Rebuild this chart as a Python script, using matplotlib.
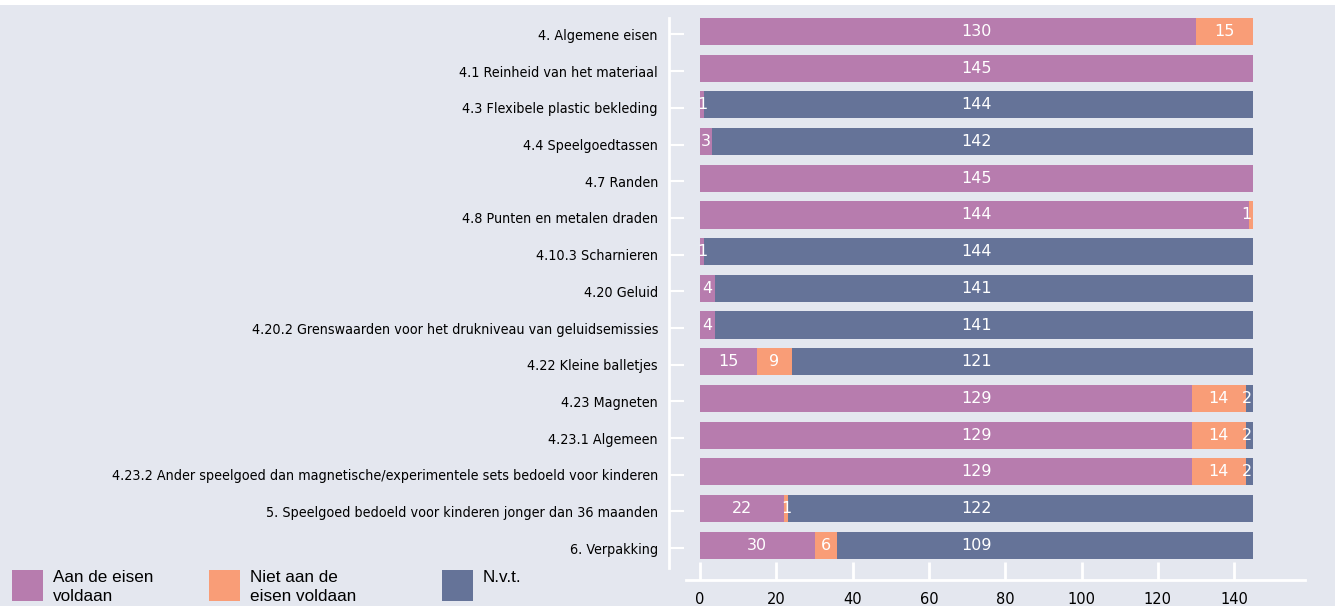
import matplotlib.pyplot as plt
from matplotlib import font_manager as fm
from matplotlib.patches import Rectangle

categories = [
    '4. Algemene eisen',
    '4.1 Reinheid van het materiaal',
    '4.3 Flexibele plastic bekleding',
    '4.4 Speelgoedtassen',
    '4.7 Randen',
    '4.8 Punten en metalen draden',
    '4.10.3 Scharnieren',
    '4.20 Geluid',
    '4.20.2 Grenswaarden voor het drukniveau van geluidsemissies',
    '4.22 Kleine balletjes',
    '4.23 Magneten',
    '4.23.1 Algemeen',
    '4.23.2 Ander speelgoed dan magnetische/experimentele sets bedoeld voor kinderen',
    '5. Speelgoed bedoeld voor kinderen jonger dan 36 maanden',
    '6. Verpakking',
]
aan_eisen = [130, 145, 1, 3, 145, 144, 1, 4, 4, 15, 129, 129, 129, 22, 30]
niet_aan_eisen = [15, 0, 0, 0, 0, 1, 0, 0, 0, 9, 14, 14, 14, 1, 6]
nvt = [0, 0, 144, 142, 0, 0, 144, 141, 141, 121, 2, 2, 2, 122, 109]

series = [
    ('Aan de eisen\nvoldaan', aan_eisen, '#b77cae'),
    ('Niet aan de\neisen voldaan', niet_aan_eisen, '#f99d77'),
    ('N.v.t.', nvt, '#657398'),
]
xticks = [0, 20, 40, 60, 80, 100, 120, 140]

bg = '#e4e7ef'
W, H = 1335, 606
PT = 0.72  # points per pixel at dpi 100

# condensed face for the category labels, if there is one
cond = [f.fname for f in fm.fontManager.ttflist
        if f.name == 'DejaVu Sans' and f.stretch == 'condensed'
        and f.weight in (400, 'normal') and f.style == 'normal']
if cond:
    label_font = fm.FontProperties(fname=cond[0], size=10.25)
else:
    label_font = fm.FontProperties(family='DejaVu Sans', size=9.4)

fig = plt.figure(figsize=(W / 100, H / 100), dpi=100, facecolor=bg)
fig.patches.append(Rectangle((0, 1 - 5 / H), 1, 5 / H, transform=fig.transFigure,
                             facecolor='white', edgecolor='none'))

ax = fig.add_axes([686 / W, 1 - 568 / H, (1305 - 686) / W, (568 - 18) / H])
ax.set_facecolor(bg)

# spines first: moving them resets the ticks
for s in ['top', 'right']:
    ax.spines[s].set_visible(False)
ax.spines['left'].set_position(('outward', 17 * PT))
ax.spines['bottom'].set_position(('outward', 12 * PT))
for s in ['left', 'bottom']:
    ax.spines[s].set_color('white')
    ax.spines[s].set_linewidth(2)

y = list(range(len(categories)))
totals = [a + b + c for a, b, c in zip(aan_eisen, niet_aan_eisen, nvt)]
left = [0] * len(categories)
for name, vals, col in series:
    ax.barh(y, vals, left=left, height=0.74, color=col, edgecolor='none')
    for i, v in enumerate(vals):
        if v <= 0:
            continue
        x, ha = left[i] + v / 2, 'center'
        if v >= 100:
            x = totals[i] / 2          # big segments: label in the middle of the bar
        elif x > totals[i] - 2:
            x, ha = totals[i] - 0.3, 'right'   # keep tiny end labels inside the bar
        ax.text(x, i, str(v), ha=ha, va='center', color='white',
                fontsize=11.5, family='DejaVu Sans')
    left = [l + v for l, v in zip(left, vals)]

ax.set_xlim(-3.7, 158.6)
ax.set_ylim(14.62, -0.368)

ax.set_yticks([i + 0.08 for i in y])
ax.set_yticklabels(categories, fontproperties=label_font, color='black')
ax.set_xticks(xticks)
ax.set_xticklabels([str(t) for t in xticks], fontsize=10.5, family='DejaVu Sans')

ax.tick_params(axis='y', direction='in', length=15 * PT, width=1.5, color='white', pad=11 * PT)
ax.tick_params(axis='x', direction='in', length=18 * PT, width=2, color='white', pad=12 * PT)

# legend drawn by hand to match spacing
leg_x = [12, 209, 442]
for (name, vals, col), lx in zip(series, leg_x):
    fig.patches.append(Rectangle((lx / W, 1 - 601 / H), 31 / W, 31 / H,
                                 transform=fig.transFigure, facecolor=col, edgecolor='none'))
    fig.text((lx + 41) / W, 1 - 570 / H, name, ha='left', va='top', fontsize=12.3,
             family='Liberation Sans', linespacing=1.3)

fig.savefig('out.png', dpi=100, facecolor=bg)
